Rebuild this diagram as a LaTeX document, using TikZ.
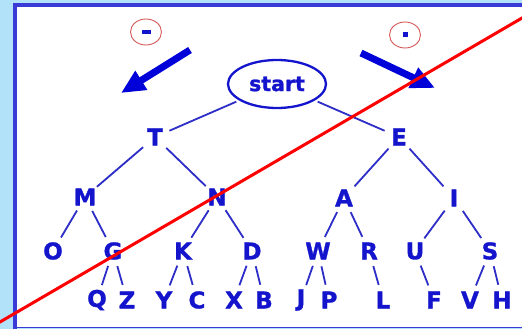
\documentclass[tikz,border=0pt]{standalone}
\usepackage{fontspec}
\setmainfont{DejaVu Sans}[BoldFeatures={FakeBold=1.2}]
\usetikzlibrary{shapes.geometric,arrows.meta,calc}
\definecolor{txtblue}{RGB}{20,20,205}
\definecolor{edgeblue}{RGB}{45,45,200}
\definecolor{frameblue}{RGB}{58,58,214}
\definecolor{skyblue}{RGB}{178,226,250}
\definecolor{circred}{RGB}{215,90,90}
\tikzset{
  lt/.style={circle,minimum size=31pt,inner sep=0pt,text=txtblue,font=\fontsize{23}{26}\selectfont\bfseries},
  edge/.style={draw=edgeblue,line width=1.8pt},
  bigarrow/.style={draw=blue!85!black,line width=7pt,-{Triangle[length=24pt,width=21pt]}},
  signcirc/.style={ellipse,draw=circred,line width=0.9pt,minimum width=31pt,minimum height=26pt,inner sep=0pt}
}
\begin{document}
\begin{tikzpicture}[x=1pt,y=-1pt]
\useasboundingbox (0,0) rectangle (522,329);
\clip (0,0) rectangle (522,329);
% background
\fill[skyblue] (0,0) rectangle (522,329);
\fill[white] (15,5) rectangle (530,327.5);
\draw[frameblue,line width=4pt] (15,3) -- (15,328.5);
\draw[frameblue,line width=3.5pt] (13,5) -- (530,5);
\draw[frameblue,line width=1.5pt] (13,327.5) -- (530,327.5);

% root
\node[ellipse,draw=txtblue,line width=2.3pt,minimum width=98pt,minimum height=48pt,inner sep=0pt,
      text=txtblue,font=\fontsize{20.5}{24}\selectfont\bfseries] (start) at (277,84) {start};

% level 1
\node[lt] (T) at (155,137) {T};
\node[lt] (E) at (399,137) {E};
% level 2
\node[lt] (M) at (85,197) {M};
\node[lt] (N) at (217,197) {N};
\node[lt] (A) at (344,198) {A};
\node[lt] (I) at (454,198) {I};
% level 3
\node[lt] (O) at (53,251) {O};
\node[lt] (G) at (113,251) {G};
\node[lt] (K) at (183,251) {K};
\node[lt] (D) at (252,251) {D};
\node[lt] (W) at (318,251) {W};
\node[lt] (R) at (369,251) {R};
\node[lt] (U) at (415,251) {U};
\node[lt] (S) at (490,251) {S};
% level 4
\node[lt] (Q) at (97,300) {Q};
\node[lt] (Z) at (127,300) {Z};
\node[lt] (Y) at (164,300) {Y};
\node[lt] (C) at (197,300) {C};
\node[lt] (X) at (234,300) {X};
\node[lt] (B) at (264,300) {B};
\node[lt] (J) at (301,300) {J};
\node[lt] (P) at (329,300) {P};
\node[lt] (L) at (383,300) {L};
\node[lt] (F) at (434,300) {F};
\node[lt] (V) at (470,300) {V};
\node[lt] (H) at (502,300) {H};

% edges
\draw[edge,shorten <=3pt] (start) -- (T);
\draw[edge,shorten <=3pt] (start) -- (E);
\foreach \a/\b in {T/M,T/N,E/A,E/I,M/O,M/G,N/K,N/D,A/W,A/R,I/U,I/S,
                   G/Q,G/Z,K/Y,K/C,D/X,D/B,W/J,W/P,R/L,U/F,S/V,S/H}
  \draw[edge] (\a) -- (\b);

% sign circles
\node[signcirc] (minus) at (146,32) {};
\fill[txtblue] ($(minus.center)+(-4.5,-2)$) rectangle ($(minus.center)+(4.5,2)$);
\node[signcirc] (dot) at (405,35) {};
\fill[txtblue] ($(dot.center)+(-2.5,-2.5)$) rectangle ($(dot.center)+(2.5,2.5)$);

% big arrows
\coordinate (la1) at (190,50);
\coordinate (la2) at (121,93);
\coordinate (ra1) at (361,53);
\coordinate (ra2) at (435,88);
\draw[bigarrow] (la1) -- (la2);
\draw[bigarrow] (ra1) -- (ra2);

% red strike line
\coordinate (r1) at (-10,327.8);
\coordinate (r2) at (532,12.2);
\draw[red,line width=3pt] (r1) -- (r2);
\end{tikzpicture}
\end{document}
